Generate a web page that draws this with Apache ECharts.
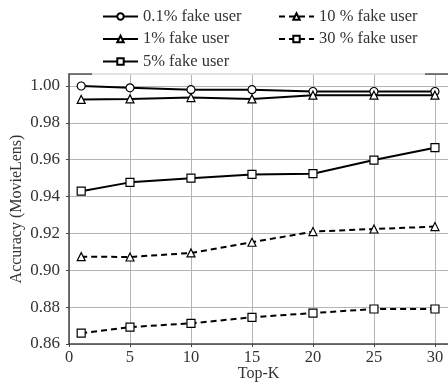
<!DOCTYPE html>
<html>
<head>
<meta charset="utf-8">
<script src="https://cdn.jsdelivr.net/npm/echarts@6/dist/echarts.min.js"></script>
<style>
  html, body { margin: 0; padding: 0; background: #fff; }
  #chart { width: 448px; height: 387px; }
</style>
</head>
<body>
<div id="chart"></div>
<script>
// Top-K values on the x axis
const topK = [1, 5, 10, 15, 20, 25, 30];

// accuracy per fake-user ratio
const fake01 = [1.000, 0.999, 0.998, 0.998, 0.997, 0.997, 0.997];
const fake1 = [0.9927, 0.993, 0.9937, 0.993, 0.995, 0.995, 0.995];
const fake5 = [0.9429, 0.9477, 0.950, 0.952, 0.9524, 0.9598, 0.9665];
const fake10 = [0.9074, 0.9072, 0.9094, 0.9152, 0.921, 0.9224, 0.9237];
const fake30 = [0.8659, 0.8692, 0.8712, 0.8745, 0.8768, 0.879, 0.879];

const seriesNames = ["0.1% fake user", "1% fake user", "5% fake user", "10 % fake user", "30 % fake user"];
const seriesData = [fake01, fake1, fake5, fake10, fake30];
const seriesSymbols = ["circle", "triangle", "rect", "triangle", "rect"];
const seriesDashed = [false, false, false, true, true];

const font = "Liberation Serif";
const labelColor = "#333";

let myChart = echarts.init(document.getElementById("chart"), null, { renderer: "canvas" });

let series = seriesNames.map(function (name, i) {
    return {
        name: name,
        type: "line",
        data: topK.map(function (k, j) { return [k, seriesData[i][j]]; }),
        symbol: seriesSymbols[i],
        symbolSize: 8,
        showSymbol: true,
        lineStyle: { color: "#000", width: 2, type: seriesDashed[i] ? [6, 4] : "solid" },
        itemStyle: { color: "#fff", borderColor: "#000", borderWidth: 1.2 },
        emphasis: { disabled: true },
        z: 3,
    };
});

let legendText = { fontFamily: font, fontSize: 16.5, color: labelColor };

let legendBase = {
    orient: "vertical",
    top: 3,
    itemWidth: 35,
    itemHeight: 8,
    itemGap: 5.5,
    textStyle: legendText,
    z: 10,
};

let option = {
    animation: false,
    grid: { left: 69, right: 0, top: 74, bottom: 43, containLabel: false, outerBoundsMode: "none" },
    legend: [
        Object.assign({ data: seriesNames.slice(0, 3), left: 97 }, legendBase),
        Object.assign({ data: seriesNames.slice(3), left: 273 }, legendBase),
    ],
    graphic: [{
        type: "rect",
        shape: { x: 92, y: -2, width: 333, height: 77 },
        style: { fill: "rgba(255,255,255,0.8)" },
        z: 8,
        silent: true,
    }],
    xAxis: [{
        type: "value",
        min: 0,
        max: 31.07,
        interval: 5,
        name: "Top-K",
        nameLocation: "middle",
        nameGap: 22,
        nameMoveOverlap: false,
        nameTextStyle: { fontFamily: font, fontSize: 16, color: labelColor, verticalAlign: "top" },
        axisLine: { show: true, onZero: false, lineStyle: { color: "#444", width: 1.5 } },
        axisTick: { show: true, length: 3, lineStyle: { color: "#444" } },
        axisLabel: { showMaxLabel: false, margin: 5, fontFamily: font, fontSize: 16.5, color: labelColor },
        splitLine: { show: true, lineStyle: { color: "#b4b4b4", width: 1 } },
    }, {
        type: "value",
        position: "top",
        min: 0,
        max: 31.07,
        axisLine: { show: true, lineStyle: { color: "#555", width: 1.5 } },
        axisTick: { show: false },
        axisLabel: { show: false },
        splitLine: { show: false },
    }],
    yAxis: {
        type: "value",
        min: 0.86,
        max: 1.0065,
        interval: 0.02,
        offset: 5,
        name: "Accuracy (MovieLens)",
        nameLocation: "middle",
        nameGap: 39,
        nameMoveOverlap: false,
        nameTextStyle: { fontFamily: font, fontSize: 16, color: labelColor },
        axisLine: { show: true, lineStyle: { color: "#444", width: 1.5 } },
        axisTick: { show: true, length: 3, lineStyle: { color: "#444" } },
        axisLabel: {
            showMaxLabel: false,
            margin: 4,
            fontFamily: font,
            fontSize: 17,
            color: labelColor,
            formatter: function (v) { return v.toFixed(2); },
        },
        splitLine: { show: true, lineStyle: { color: "#b4b4b4", width: 1 } },
    },
    series: series,
};

myChart.setOption(option);
window.addEventListener("resize", myChart.resize);
</script>
</body>
</html>
